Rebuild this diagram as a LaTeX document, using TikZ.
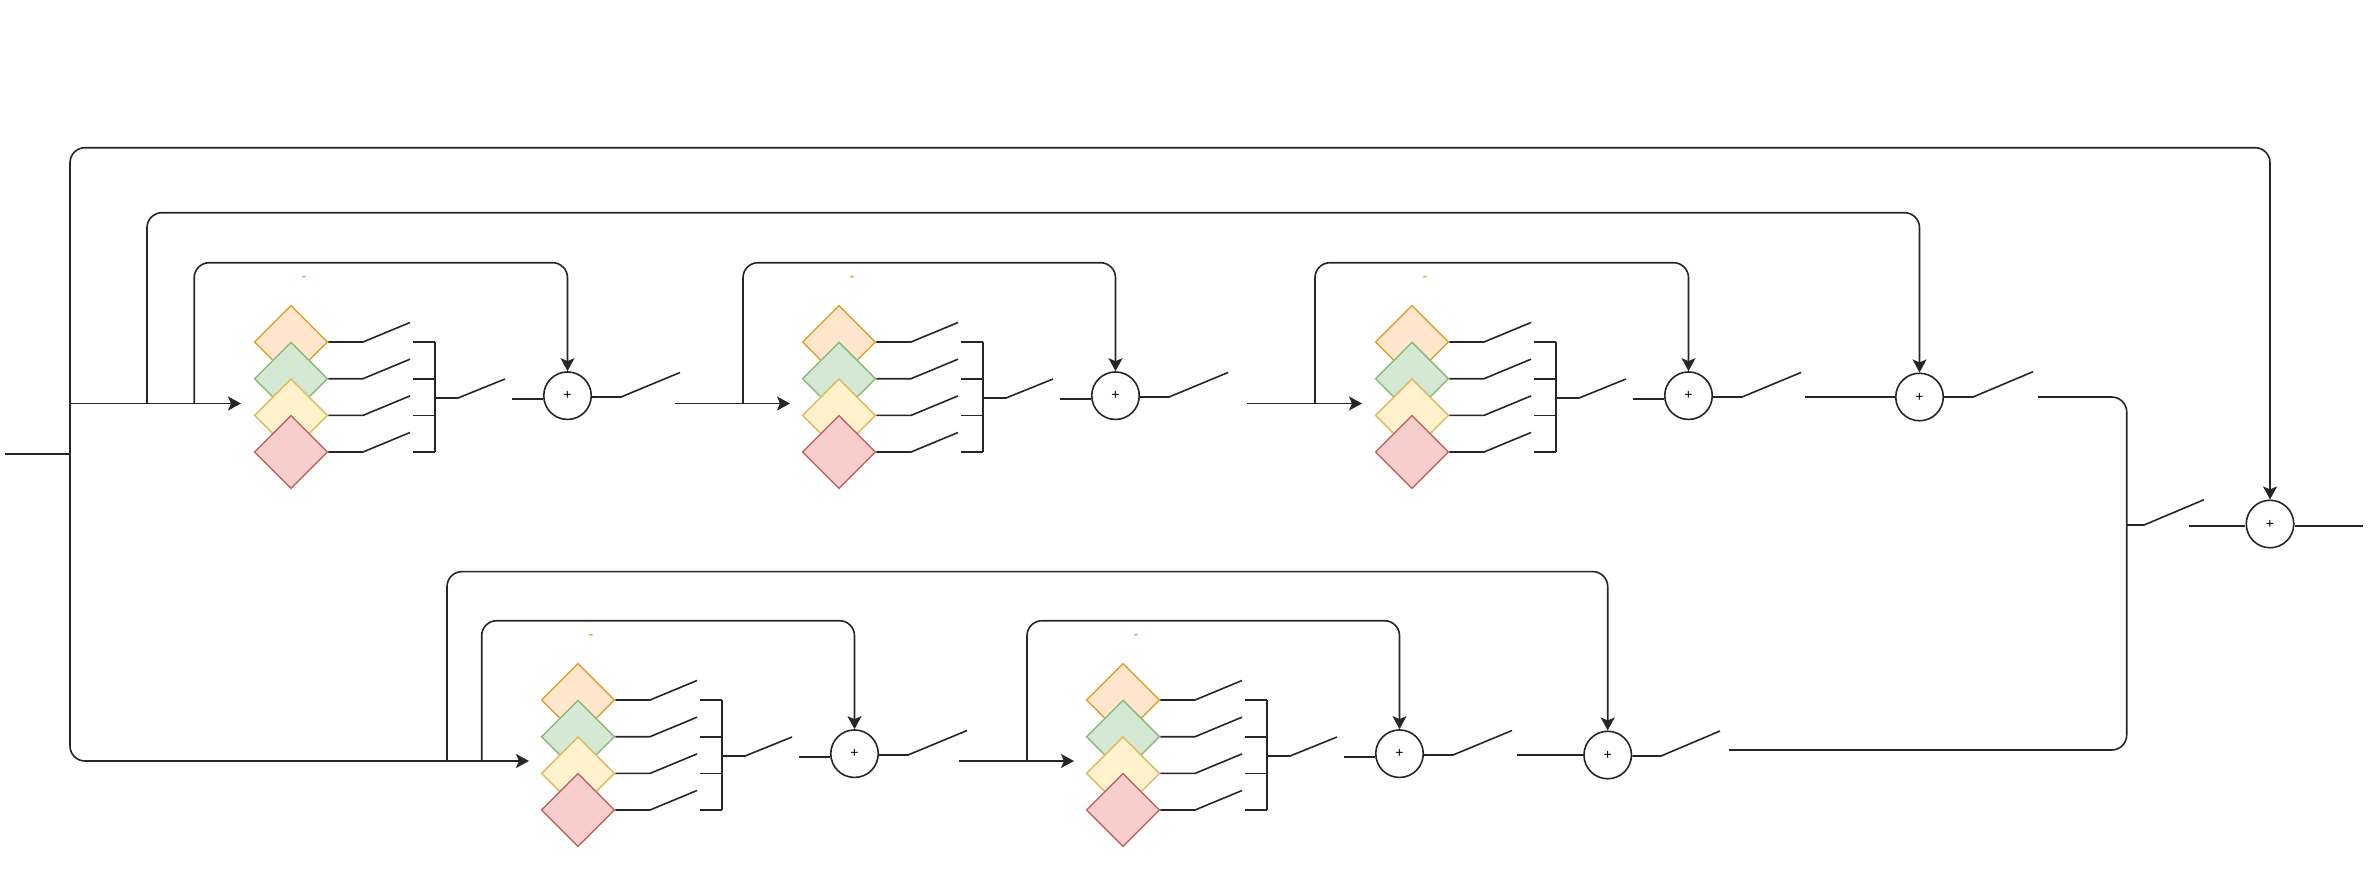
\documentclass[tikz,border=0pt]{standalone}
\usepackage{fontspec}
\setmainfont{Liberation Sans}
\usetikzlibrary{shapes.geometric,arrows.meta}
\definecolor{wirec}{HTML}{262626}
\definecolor{orangefill}{HTML}{FFE6CC}\definecolor{orangeline}{HTML}{E0A030}
\definecolor{greenfill}{HTML}{D5E8D4}\definecolor{greenline}{HTML}{8DB87A}
\definecolor{yellowfill}{HTML}{FFF2CC}\definecolor{yellowline}{HTML}{DDBE68}
\definecolor{redfill}{HTML}{F8CECC}\definecolor{redline}{HTML}{C06560}
\tikzset{
  x=1pt,y=-1pt,
  wire/.style={draw=wirec,line width=1.6pt,line join=round},
  feed/.style={wire,rounded corners=15pt},
  flow/.style={wire,-{Stealth[length=13pt,width=14pt,inset=3pt]}},
  feedflow/.style={flow,rounded corners=15pt},
  choice/.style={diamond,draw,line width=1.5pt,minimum width=73.4pt,minimum height=73.4pt,inner sep=0pt,aspect=1},
  optA/.style={choice,fill=orangefill,draw=orangeline},
  optB/.style={choice,fill=greenfill,draw=greenline},
  optC/.style={choice,fill=yellowfill,draw=yellowline},
  optD/.style={choice,fill=redfill,draw=redline},
  adder/.style={circle,draw=wirec,fill=white,line width=1.6pt,minimum size=47.5pt,inner sep=0pt,font=\fontsize{14}{14}\selectfont},
  tag/.style={font=\bfseries\fontsize{13}{13}\selectfont,text=orangeline,inner sep=0pt}
}

% One stage: four options, their switches, a collecting bar, a switch, the adder and its switch.
\newcommand{\stage}[3]{%
  \begin{scope}[shift={(#2,#3)}]
    \node[tag] (#1t) at (304,278) {-};
    \node[optA] (#1a) at (291,342) {};
    \node[optB] (#1b) at (291,378.7) {};
    \node[optC] (#1c) at (291,415.4) {};
    \node[optD] (#1d) at (291,452) {};
    \foreach \opt/\yy in {a/342,b/378.7,c/415.4,d/452}{
      \coordinate (#1\opt k) at (363,\yy);
      \coordinate (#1\opt e) at (410,\yy-19.5);
      \coordinate (#1\opt s) at (413,\yy);
      \coordinate (#1\opt j) at (435,\yy);
      \draw[wire] (#1\opt.east) -- (#1\opt k) -- (#1\opt e);
      \draw[wire] (#1\opt s) -- (#1\opt j);
    }
    \draw[wire] (#1aj) -- (#1dj);
    \coordinate (#1mid) at (435,398);
    \coordinate (#1mk) at (458,398);
    \coordinate (#1me) at (505,379);
    \draw[wire] (#1mid) -- (#1mk) -- (#1me);
    \node[adder] (#1sum) at (567.5,395.7) {+};
    \coordinate (#1in) at (512,399);
    \draw[wire] (#1in) -- (#1in -| #1sum.west);
    \coordinate (#1ok) at (621,397);
    \coordinate (#1oe) at (680,372.5);
    \draw[wire] (#1sum.east |- #1ok) -- (#1ok) -- (#1oe);
  \end{scope}
}

\begin{document}
\begin{tikzpicture}
  \useasboundingbox (0,0) rectangle (2368,870);

  % Upper row of stages
  \stage{p}{0}{0}
  \stage{q}{548}{0}
  \stage{r}{1121}{0}
  % Lower row of stages
  \stage{s}{287}{358}
  \stage{t}{832}{358}

  % Adders that close the outer bypasses
  \node[adder] (u) at (1919.5,397) {+};
  \node[adder] (v) at (1607.7,755) {+};
  \node[adder] (w) at (2270,524) {+};

  % Feed points on the main signal lines
  \coordinate (src) at (5,453.7);
  \coordinate (srcj) at (70,453.7);
  \coordinate (topc) at (70,147.7);
  \coordinate (botc) at (70,761);
  \coordinate (upj) at (70,403.5);
  \coordinate (a1) at (241,403.5);
  \coordinate (b1) at (675,403.5);
  \coordinate (a2) at (790,403.5);
  \coordinate (b2) at (1247,403.5);
  \coordinate (a3) at (1362,403.5);
  \coordinate (lowe) at (415,761);
  \coordinate (a4) at (529,761);
  \coordinate (b5) at (959,761);
  \coordinate (a5) at (1074,761);

  \draw[wire] (src) -- (srcj);
  \draw[flow] (upj) -- (a1);
  \draw[flow] (b1) -- (a2);
  \draw[flow] (b2) -- (a3);
  \draw[flow] (lowe) -- (a4);
  \draw[flow] (b5) -- (a5);

  % Outer rail: top bypass, down the left side, along to the lower row
  \draw[feedflow] (srcj) -- (topc) -- (topc -| w) -- (w.north);
  \draw[feed] (srcj) -- (botc) -- (lowe);

  % Bypass of the whole upper row
  \coordinate (tu) at (147,403.5);
  \coordinate (tut) at (147,212.7);
  \draw[feedflow] (tu) -- (tut) -- (tut -| u) -- (u.north);

  % Bypass around each stage
  \foreach \tap/\st in {194.2/p,743/q,1315/r}{
    \coordinate (\st tap) at (\tap,403.5);
    \coordinate (\st top) at (\tap,262.7);
    \draw[feedflow] (\st tap) -- (\st top) -- (\st top -| \st sum) -- (\st sum.north);
  }
  \foreach \tap/\st in {481.7/s,1027/t}{
    \coordinate (\st tap) at (\tap,761);
    \coordinate (\st top) at (\tap,620.7);
    \draw[feedflow] (\st tap) -- (\st top) -- (\st top -| \st sum) -- (\st sum.north);
  }

  % Bypass of the whole lower row
  \coordinate (tv) at (447,761);
  \coordinate (tvt) at (447,571.6);
  \draw[feedflow] (tv) -- (tvt) -- (tvt -| v) -- (v.north);

  % Adder switches and their input stubs
  \coordinate (uin) at (1805,397);
  \draw[wire] (uin) -- (u.west);
  \coordinate (uok) at (1973,397);
  \coordinate (uoe) at (2033,371.7);
  \draw[wire] (u.east) -- (uok) -- (uoe);

  \coordinate (vin) at (1517,755);
  \draw[wire] (vin) -- (v.west);
  \coordinate (vok) at (1661,756);
  \coordinate (voe) at (1720,731);
  \draw[wire] (v.east |- vok) -- (vok) -- (voe);

  % Right-hand rail joining both rows
  \coordinate (rs) at (2038,397);
  \coordinate (rc) at (2126.7,397);
  \coordinate (rd) at (2126.7,750);
  \coordinate (re) at (1729,750);
  \draw[feed] (rs) -- (rc) -- (rd) -- (re);

  % Last switch and output
  \coordinate (xj) at (2126.7,525);
  \coordinate (xk) at (2144,525);
  \coordinate (xe) at (2204,499.7);
  \draw[wire] (xj) -- (xk) -- (xe);
  \coordinate (win) at (2189,525.7);
  \draw[wire] (win) -- (w.west |- win);
  \coordinate (wout) at (2363,525.7);
  \draw[wire] (w.east |- wout) -- (wout);
\end{tikzpicture}
\end{document}
